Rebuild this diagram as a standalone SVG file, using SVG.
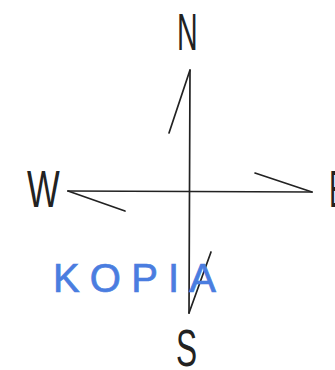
<svg xmlns="http://www.w3.org/2000/svg" width="335" height="370" viewBox="0 0 335 370">
<style>
.ln{stroke:#222;stroke-width:1.7;fill:none;stroke-linecap:round}
.lbl{font-family:"Liberation Sans",Arial,sans-serif;font-size:51px;fill:#222}
.stamp{font-family:"Liberation Sans",Arial,sans-serif;font-size:40px;fill:#4a7de0;stroke:#4a7de0;stroke-width:0.7}
</style>
<rect width="335" height="370" fill="#fff"/>
<g id="connectors">
<line class="ln" x1="190" y1="70" x2="189" y2="313"/>
<line class="ln" x1="68" y1="191" x2="312" y2="192"/>
<line class="ln" x1="190" y1="70" x2="169" y2="133"/>
<line class="ln" x1="68" y1="191" x2="125" y2="211"/>
<line class="ln" x1="312" y1="192" x2="255" y2="173"/>
<line class="ln" x1="189" y1="313" x2="211" y2="252"/>
</g>
<g id="N"><text class="lbl" transform="translate(177,50) scale(0.56,1)">N</text></g>
<g id="W"><text class="lbl" transform="translate(27,207) scale(0.68,1)">W</text></g>
<g id="E"><text class="lbl" transform="translate(329,207) scale(0.56,1)">E</text></g>
<g id="S"><text class="lbl" transform="translate(176,366) scale(0.62,1)">S</text></g>
<g id="stamp"><text class="stamp" x="53" y="292" textLength="163" lengthAdjust="spacing">KOPIA</text></g>
</svg>
